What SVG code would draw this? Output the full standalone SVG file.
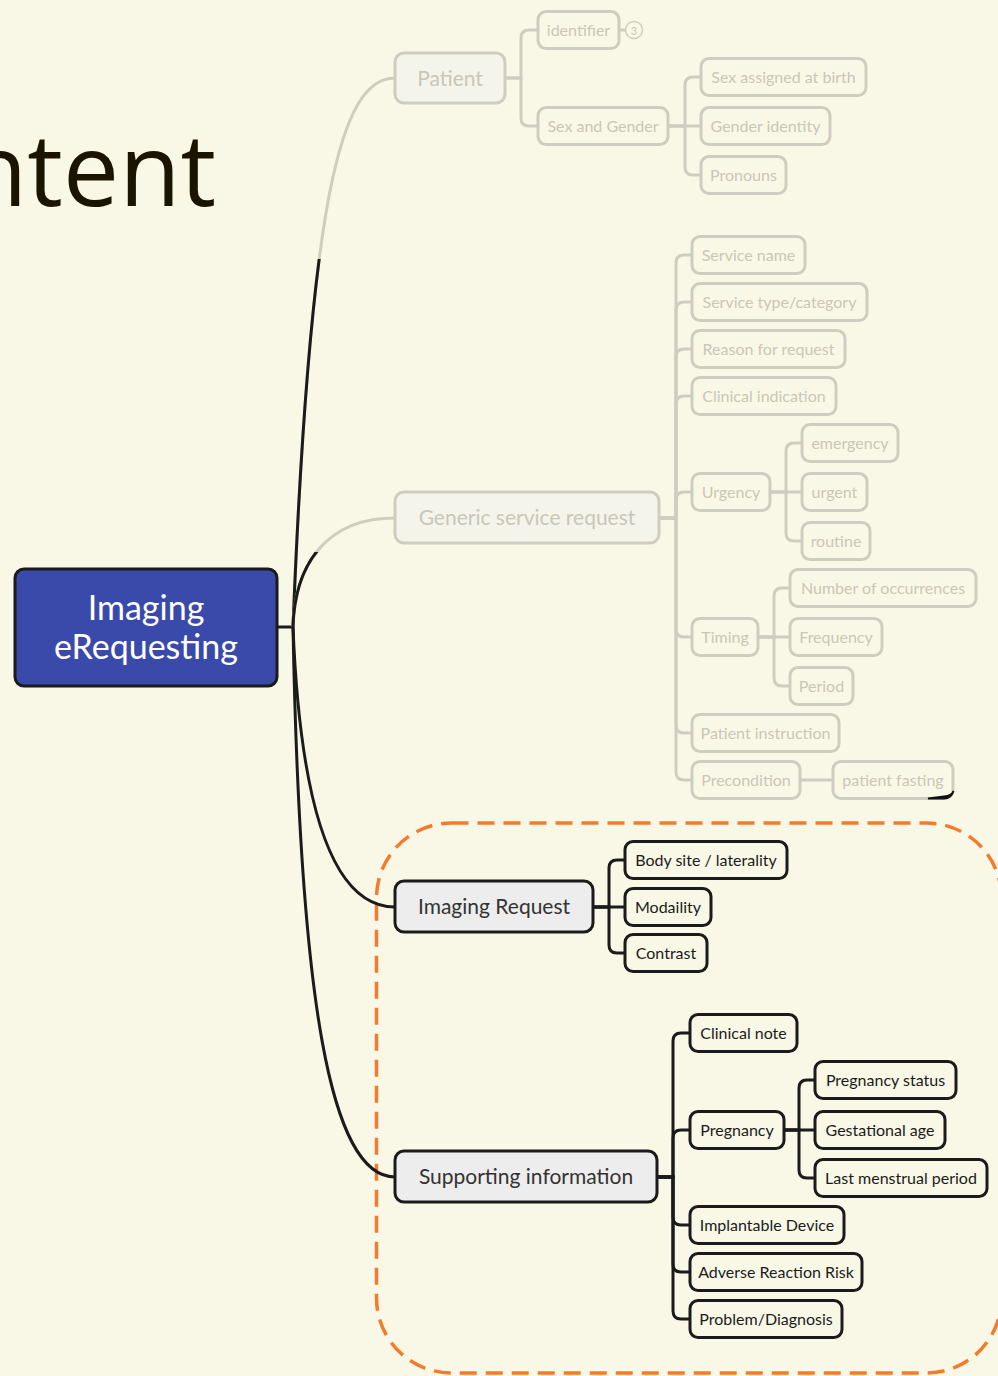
<svg xmlns="http://www.w3.org/2000/svg" width="998" height="1376" viewBox="0 0 998 1376">
  <defs>
    <style>
      text { font-family: Lato, "Open Sans", "Liberation Sans", sans-serif; text-anchor: middle; dominant-baseline: central; font-size: 16px; transform: translateY(-1px); }
      .faded rect { fill: none; stroke: #cfcdbf; stroke-width: 3; }
      .faded text { fill: #c9c7b8; }
      .dark rect { fill: none; stroke: #1b1b1b; stroke-width: 3; }
      .dark text { fill: #1b1b1b; }
      .l1 text { font-size: 21px; }
      .faded.l1 rect { fill: #f5f4ea; }
      .dark.l1 rect { fill: #ededed; }
      .dark.l1 text { fill: #333333; }
      .c-grey { fill: none; stroke: #cfcdbf; stroke-width: 3; }
      .c-dark { fill: none; stroke: #1b1b1b; stroke-width: 3; }
      .badge circle { fill: none; stroke: #cfcdbf; stroke-width: 1.5; }
      .badge text { fill: #c9c7b8; font-size: 11px; }
    </style>
    <clipPath id="lowerFromPatient"><rect x="0" y="259" width="998" height="500"/></clipPath>
    <clipPath id="lowerFromGeneric"><rect x="0" y="552" width="998" height="200"/></clipPath>
  </defs>

  <rect width="998" height="1376" fill="#f9f8e6"/>

  <!-- page heading, running off the left edge -->
  <text x="-34" y="206" style="font-family:'Open Sans','Noto Sans',sans-serif;font-size:100px;text-anchor:start;dominant-baseline:alphabetic;fill:#1a1500;transform:none">ntent</text>

  <!-- highlight frame around the imaging branches -->
  <rect x="376.5" y="823" width="625" height="550" rx="75" fill="none" stroke="#f47a2c" stroke-width="3.5" stroke-dasharray="17 9"/>

  <g id="connectors">
    <!-- root to first level -->
    <path class="c-dark" d="M277 627 H293"/>
    <path class="c-grey" d="M293 627 C310 200 340 78 395 78"/>
    <path class="c-dark" d="M293 627 C310 200 340 78 395 78" clip-path="url(#lowerFromPatient)"/>
    <path class="c-grey" d="M293 627 C295 560 330 518 395 518"/>
    <path class="c-dark" d="M293 627 C295 560 330 518 395 518" clip-path="url(#lowerFromGeneric)"/>
    <path class="c-dark" d="M293 627 C300 800 330 907 395 907"/>
    <path class="c-dark" d="M293 627 C300 1000 330 1177 395 1177"/>

    <!-- Patient -->
    <path class="c-grey" d="M505 78 H521 V38 Q521 30 529 30 H538"/>
    <path class="c-grey" d="M505 78 H521 V118 Q521 126 529 126 H538"/>
    <path class="c-grey" d="M619 30 H626"/>
    <!-- Sex and Gender -->
    <path class="c-grey" d="M668 126 H685 V85 Q685 77 693 77 H701"/>
    <path class="c-grey" d="M668 126 H701"/>
    <path class="c-grey" d="M668 126 H685 V167 Q685 175 693 175 H701"/>

    <!-- Generic service request -->
    <path class="c-grey" d="M659 518 H676 V263 Q676 255 684 255 H692"/>
    <path class="c-grey" d="M659 518 H676 V310 Q676 302 684 302 H692"/>
    <path class="c-grey" d="M659 518 H676 V357 Q676 349 684 349 H692"/>
    <path class="c-grey" d="M659 518 H676 V404 Q676 396 684 396 H692"/>
    <path class="c-grey" d="M659 518 H676 V500 Q676 492 684 492 H692"/>
    <path class="c-grey" d="M659 518 H676 V629 Q676 637 684 637 H692"/>
    <path class="c-grey" d="M659 518 H676 V725 Q676 733 684 733 H692"/>
    <path class="c-grey" d="M659 518 H676 V772 Q676 780 684 780 H692"/>
    <!-- Urgency -->
    <path class="c-grey" d="M770 492 H786 V451 Q786 443 794 443 H802"/>
    <path class="c-grey" d="M770 492 H802"/>
    <path class="c-grey" d="M770 492 H786 V533 Q786 541 794 541 H802"/>
    <!-- Timing -->
    <path class="c-grey" d="M758 637 H774 V596 Q774 588 782 588 H790"/>
    <path class="c-grey" d="M758 637 H790"/>
    <path class="c-grey" d="M758 637 H774 V678 Q774 686 782 686 H790"/>
    <!-- Precondition -->
    <path class="c-grey" d="M800 780 H833"/>

    <!-- Imaging Request -->
    <path class="c-dark" d="M593 907 H609 V868 Q609 860 617 860 H625"/>
    <path class="c-dark" d="M593 907 H625"/>
    <path class="c-dark" d="M593 907 H609 V945 Q609 953 617 953 H625"/>

    <!-- Supporting information -->
    <path class="c-dark" d="M657 1177 H673 V1041 Q673 1033 681 1033 H690"/>
    <path class="c-dark" d="M657 1177 H673 V1138 Q673 1130 681 1130 H690"/>
    <path class="c-dark" d="M657 1177 H673 V1217 Q673 1225 681 1225 H690"/>
    <path class="c-dark" d="M657 1177 H673 V1264 Q673 1272 681 1272 H690"/>
    <path class="c-dark" d="M657 1177 H673 V1311 Q673 1319 681 1319 H690"/>
    <!-- Pregnancy -->
    <path class="c-dark" d="M784 1130 H799 V1088 Q799 1080 807 1080 H815"/>
    <path class="c-dark" d="M784 1130 H815"/>
    <path class="c-dark" d="M784 1130 H799 V1170 Q799 1178 807 1178 H815"/>
  </g>

  <!-- root -->
  <g id="n-root">
    <rect x="15" y="569" width="262" height="117" rx="9" fill="#3a4aab" stroke="#1b1b1b" stroke-width="3"/>
    <text x="146" y="607" style="fill:#ffffff;font-size:34px">Imaging</text>
    <text x="146" y="646" style="fill:#ffffff;font-size:34px">eRequesting</text>
  </g>

  <!-- Patient branch -->
  <g id="n-patient" class="faded l1"><rect x="395" y="53" width="110" height="50" rx="9"/><text x="450" y="78">Patient</text></g>
  <g id="n-identifier" class="faded"><rect x="538" y="11.5" width="81" height="37" rx="8"/><text x="578.5" y="30">identifier</text></g>
  <g id="n-identifier-count" class="badge"><circle cx="634" cy="30" r="8.5"/><text x="634" y="31">3</text></g>
  <g id="n-sex-gender" class="faded"><rect x="538" y="107.5" width="130" height="37" rx="8"/><text x="603" y="126">Sex and Gender</text></g>
  <g id="n-sex-birth" class="faded"><rect x="701" y="58.5" width="165" height="37" rx="8"/><text x="783.5" y="77">Sex assigned at birth</text></g>
  <g id="n-gender-identity" class="faded"><rect x="701" y="107.5" width="129" height="37" rx="8"/><text x="765.5" y="126">Gender identity</text></g>
  <g id="n-pronouns" class="faded"><rect x="701" y="156.5" width="85" height="37" rx="8"/><text x="743.5" y="175">Pronouns</text></g>

  <!-- Generic service request branch -->
  <g id="n-generic" class="faded l1"><rect x="395" y="492" width="264" height="51" rx="9"/><text x="527" y="517.5">Generic service request</text></g>
  <g id="n-service-name" class="faded"><rect x="692" y="236.5" width="113" height="37" rx="8"/><text x="748.5" y="255">Service name</text></g>
  <g id="n-service-type" class="faded"><rect x="692" y="283.5" width="175" height="37" rx="8"/><text x="779.5" y="302">Service type/category</text></g>
  <g id="n-reason" class="faded"><rect x="692" y="330.5" width="153" height="37" rx="8"/><text x="768.5" y="349">Reason for request</text></g>
  <g id="n-clinical-indication" class="faded"><rect x="692" y="377.5" width="144" height="37" rx="8"/><text x="764" y="396">Clinical indication</text></g>
  <g id="n-urgency" class="faded"><rect x="692" y="473.5" width="78" height="37" rx="8"/><text x="731" y="492">Urgency</text></g>
  <g id="n-emergency" class="faded"><rect x="802" y="424.5" width="96" height="37" rx="8"/><text x="850" y="443">emergency</text></g>
  <g id="n-urgent" class="faded"><rect x="802" y="473.5" width="65" height="37" rx="8"/><text x="834.5" y="492">urgent</text></g>
  <g id="n-routine" class="faded"><rect x="802" y="522.5" width="68" height="37" rx="8"/><text x="836" y="541">routine</text></g>
  <g id="n-timing" class="faded"><rect x="692" y="618.5" width="66" height="37" rx="8"/><text x="725" y="637">Timing</text></g>
  <g id="n-occurrences" class="faded"><rect x="790" y="569.5" width="186" height="37" rx="8"/><text x="883" y="588">Number of occurrences</text></g>
  <g id="n-frequency" class="faded"><rect x="790" y="618.5" width="92" height="37" rx="8"/><text x="836" y="637">Frequency</text></g>
  <g id="n-period" class="faded"><rect x="790" y="667.5" width="63" height="37" rx="8"/><text x="821.5" y="686">Period</text></g>
  <g id="n-patient-instruction" class="faded"><rect x="692" y="714.5" width="147" height="37" rx="8"/><text x="765.5" y="733">Patient instruction</text></g>
  <g id="n-precondition" class="faded"><rect x="692" y="761.5" width="108" height="37" rx="8"/><text x="746" y="780">Precondition</text></g>
  <g id="n-fasting" class="faded"><rect x="833" y="761.5" width="120" height="37" rx="8"/><text x="893" y="780">patient fasting</text></g>
  <path d="M928 798.5 H944 Q951 798.5 953.5 791 Q952 796 944 796.5 Z" fill="#111111" stroke="#111111" stroke-width="2"/>

  <!-- Imaging Request branch -->
  <g id="n-imaging-request" class="dark l1"><rect x="395" y="881" width="198" height="51" rx="9"/><text x="494" y="906.5">Imaging Request</text></g>
  <g id="n-body-site" class="dark"><rect x="625" y="841.5" width="162" height="37" rx="8"/><text x="706" y="860">Body site / laterality</text></g>
  <g id="n-modality" class="dark"><rect x="625" y="888.5" width="86" height="37" rx="8"/><text x="668" y="907">Modaility</text></g>
  <g id="n-contrast" class="dark"><rect x="625" y="934.5" width="82" height="37" rx="8"/><text x="666" y="953">Contrast</text></g>

  <!-- Supporting information branch -->
  <g id="n-supporting" class="dark l1"><rect x="395" y="1151" width="262" height="51" rx="9"/><text x="526" y="1176.5">Supporting information</text></g>
  <g id="n-clinical-note" class="dark"><rect x="690" y="1014.5" width="107" height="37" rx="8"/><text x="743.5" y="1033">Clinical note</text></g>
  <g id="n-pregnancy" class="dark"><rect x="690" y="1111.5" width="94" height="37" rx="8"/><text x="737" y="1130">Pregnancy</text></g>
  <g id="n-pregnancy-status" class="dark"><rect x="815" y="1061.5" width="141" height="37" rx="8"/><text x="885.5" y="1080">Pregnancy status</text></g>
  <g id="n-gestational-age" class="dark"><rect x="815" y="1111.5" width="130" height="37" rx="8"/><text x="880" y="1130">Gestational age</text></g>
  <g id="n-lmp" class="dark"><rect x="815" y="1159.5" width="172" height="37" rx="8"/><text x="901" y="1178">Last menstrual period</text></g>
  <g id="n-implantable" class="dark"><rect x="690" y="1206.5" width="154" height="37" rx="8"/><text x="767" y="1225">Implantable Device</text></g>
  <g id="n-adverse" class="dark"><rect x="690" y="1253.5" width="172" height="37" rx="8"/><text x="776" y="1272">Adverse Reaction Risk</text></g>
  <g id="n-problem" class="dark"><rect x="690" y="1300.5" width="152" height="37" rx="8"/><text x="766" y="1319">Problem/Diagnosis</text></g>
</svg>
